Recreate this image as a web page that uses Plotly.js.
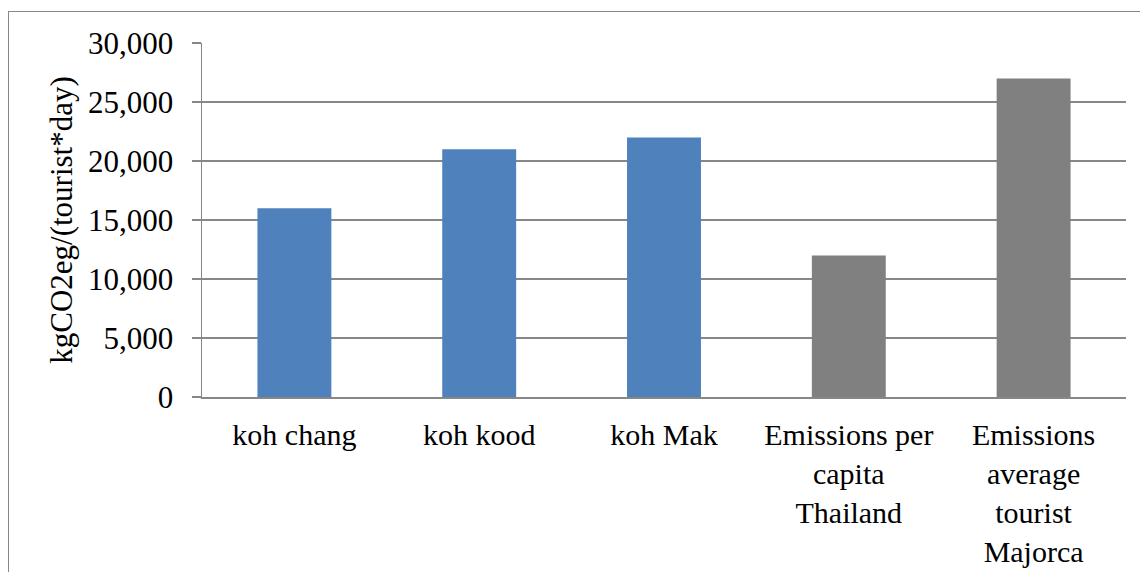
<!DOCTYPE html>
<html>
<head>
<meta charset="utf-8">
<script src="https://cdn.plot.ly/plotly-3.0.1.min.js"></script>
<style>
  html, body { margin: 0; padding: 0; background: #fff; }
  #wrap { position: relative; width: 1140px; height: 572px; overflow: hidden; }
  #chart { position: absolute; left: 0; top: 0; width: 1140px; height: 572px; }
  #frame { position: absolute; left: 8px; top: 11px; width: 1150px; height: 580px;
           border: 1.5px solid #878787; pointer-events: none; box-sizing: border-box; }
</style>
</head>
<body>
<div id="wrap">
  <div id="chart"></div>
  <div id="frame"></div>
</div>
<script>
// Daily emissions per tourist on the three islands
const islandLabels = ['koh chang', 'koh kood', 'koh Mak'];
const islandValues = [16000, 21000, 22000];

// Reference emission levels for comparison
const referenceLabels = ['Emissions per<br>capita<br>Thailand', 'Emissions<br>average<br>tourist<br>Majorca'];
const referenceValues = [12000, 27000];

const yTitle = 'kgCO2eg/(tourist*day)';
const yTicks = [0, 5000, 10000, 15000, 20000, 25000, 30000];

const serif = '"Liberation Serif", "Times New Roman", serif';
const gridGray = '#878787';

const traces = [
  {
    type: 'bar',
    x: islandLabels,
    y: islandValues,
    width: 0.4,
    marker: { color: '#4F81BD', line: { width: 0 } },
    hoverinfo: 'x+y'
  },
  {
    type: 'bar',
    x: referenceLabels,
    y: referenceValues,
    width: 0.4,
    marker: { color: '#808080', line: { width: 0 } },
    hoverinfo: 'x+y'
  }
];

const layout = {
  width: 1140,
  height: 572,
  margin: { l: 202, r: 14, t: 43, b: 175, pad: 0 },
  paper_bgcolor: '#ffffff',
  plot_bgcolor: '#ffffff',
  showlegend: false,
  barmode: 'overlay',
  font: { family: serif, size: 31, color: '#000000' },
  xaxis: {
    type: 'category',
    categoryorder: 'array',
    categoryarray: islandLabels.concat(referenceLabels),
    showline: true,
    linecolor: gridGray,
    linewidth: 1.5,
    ticks: '',
    showgrid: false,
    zeroline: false,
    tickfont: { family: serif, size: 30, color: '#000000' },
    ticklabelstandoff: 10,
    fixedrange: true
  },
  yaxis: {
    range: [0, 30000],
    tickvals: yTicks,
    tickformat: ',d',
    showline: true,
    linecolor: gridGray,
    linewidth: 1.5,
    ticks: 'outside',
    ticklen: 9,
    tickwidth: 1.5,
    tickcolor: gridGray,
    showgrid: true,
    gridcolor: gridGray,
    gridwidth: 1.5,
    zeroline: false,
    tickfont: { family: serif, size: 31, color: '#000000' },
    ticklabelstandoff: 12,
    title: { text: yTitle, font: { family: serif, size: 31, color: '#000000' }, standoff: 6 },
    automargin: false,
    fixedrange: true
  }
};

Plotly.newPlot('chart', traces, layout, { staticPlot: true, displayModeBar: false });
</script>
</body>
</html>
